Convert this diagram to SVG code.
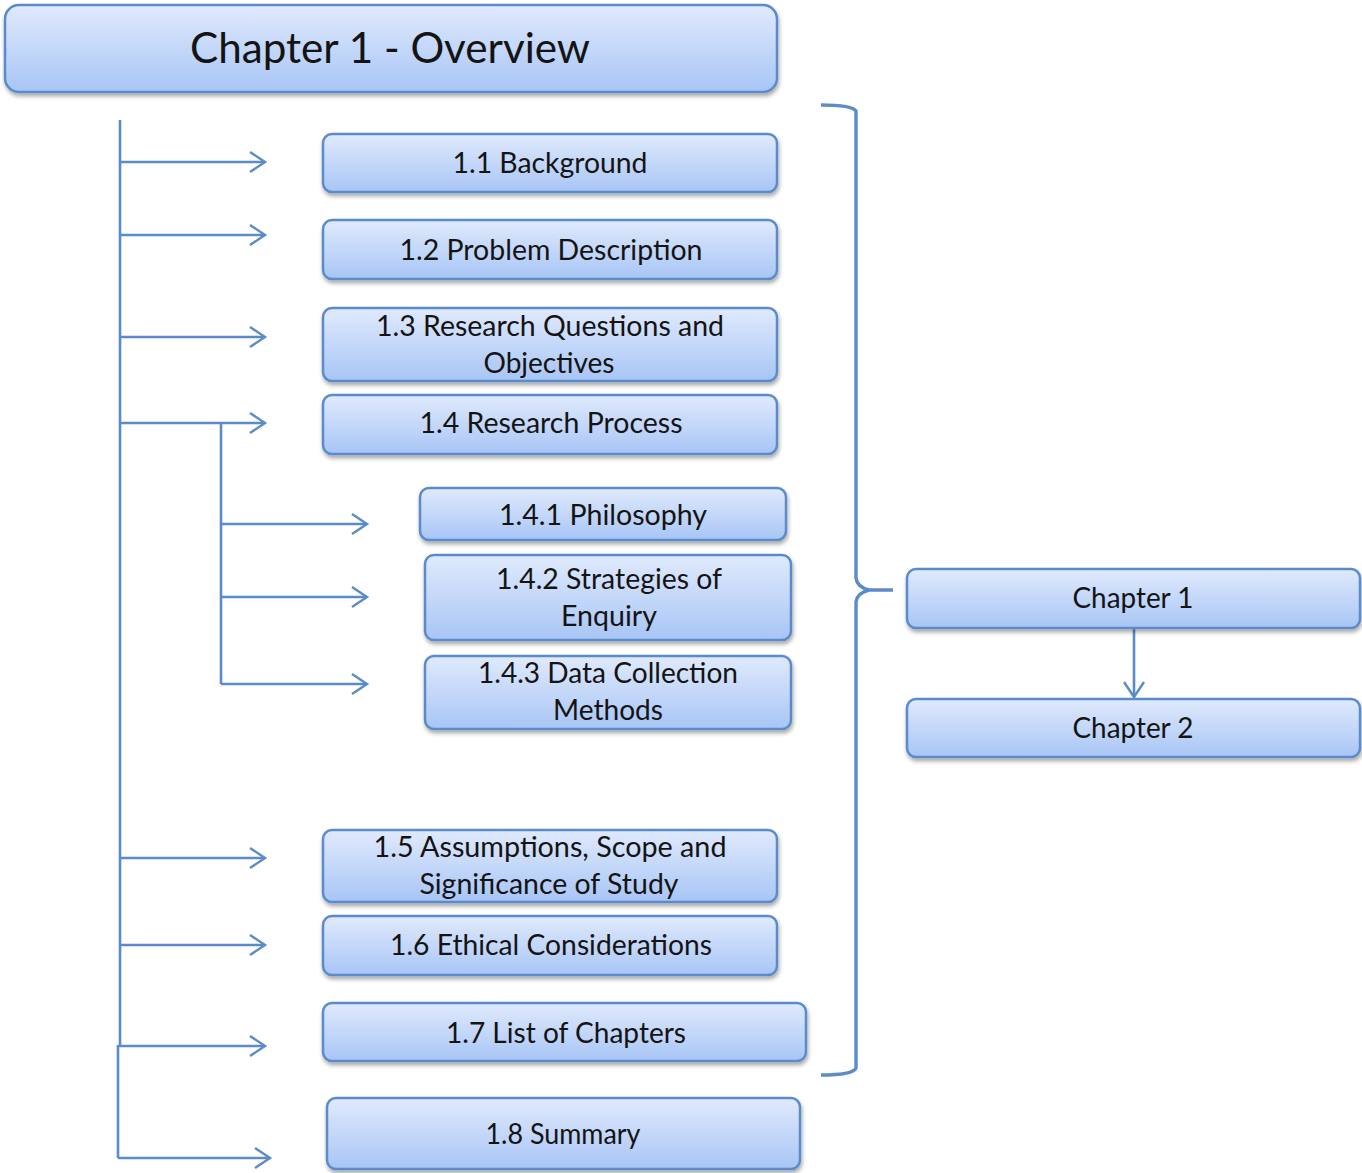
<svg xmlns="http://www.w3.org/2000/svg" width="1362" height="1173" viewBox="0 0 1362 1173">
  <defs>
    <linearGradient id="boxFill" x1="0" y1="0" x2="0" y2="1">
      <stop offset="0" stop-color="#e0eafc"/>
      <stop offset="1" stop-color="#a8c5f6"/>
    </linearGradient>
    <filter id="shadow" x="-5%" y="-20%" width="110%" height="150%">
      <feGaussianBlur in="SourceAlpha" stdDeviation="2"/>
      <feOffset dx="1" dy="3" result="b"/>
      <feComponentTransfer><feFuncA type="linear" slope="0.35"/></feComponentTransfer>
      <feMerge><feMergeNode/><feMergeNode in="SourceGraphic"/></feMerge>
    </filter>
    <marker id="arrow" markerWidth="20" markerHeight="24" refX="17" refY="12" orient="auto" markerUnits="userSpaceOnUse">
      <path d="M2,2 L17,12 L2,22" fill="none" stroke="#5b8bc9" stroke-width="2.4"/>
    </marker>
  </defs>
  <style>
    .box { fill: url(#boxFill); stroke: #5b8bc9; stroke-width: 2.5; filter: url(#shadow); }
    .lbl { font-family: Lato, "Open Sans", "Liberation Sans", sans-serif; font-size: 28px; fill: #141414; text-anchor: middle; }
    .title { font-size: 43px; }
    .conn { fill: none; stroke: #5b8bc9; stroke-width: 2.6; }
    .brace { fill: none; stroke: #5b8bc9; stroke-width: 3.4; stroke-linejoin: round; }
  </style>

  <g id="connectors">
    <!-- main spine -->
    <path class="conn" d="M120,120 V1045 M118,1045 V1158"/>
    <line class="conn" x1="120" y1="162" x2="265" y2="162" marker-end="url(#arrow)"/>
    <line class="conn" x1="120" y1="235" x2="265" y2="235" marker-end="url(#arrow)"/>
    <line class="conn" x1="120" y1="337" x2="265" y2="337" marker-end="url(#arrow)"/>
    <line class="conn" x1="120" y1="423" x2="265" y2="423" marker-end="url(#arrow)"/>
    <line class="conn" x1="120" y1="858" x2="265" y2="858" marker-end="url(#arrow)"/>
    <line class="conn" x1="120" y1="945" x2="265" y2="945" marker-end="url(#arrow)"/>
    <line class="conn" x1="118" y1="1046" x2="265" y2="1046" marker-end="url(#arrow)"/>
    <line class="conn" x1="118" y1="1158" x2="270" y2="1158" marker-end="url(#arrow)"/>
    <!-- research process sub-branch -->
    <path class="conn" d="M221,423 V684"/>
    <line class="conn" x1="221" y1="524" x2="367" y2="524" marker-end="url(#arrow)"/>
    <line class="conn" x1="221" y1="597" x2="367" y2="597" marker-end="url(#arrow)"/>
    <line class="conn" x1="221" y1="684" x2="367" y2="684" marker-end="url(#arrow)"/>
    <!-- chapter sequence -->
    <line class="conn" x1="1134" y1="628" x2="1134" y2="697" marker-end="url(#arrow)"/>
    <!-- grouping brace -->
    <path class="brace" d="M821,105 Q852,105 856,111 V578 Q857,587 869,590 L893,590 M869,590 Q857,593 856,602 V1068 Q853,1075 821,1075"/>
  </g>

  <g id="title">
    <rect class="box" x="5" y="5" width="772" height="87" rx="14"/>
    <text class="lbl title" x="390" y="63" textLength="400" lengthAdjust="spacingAndGlyphs">Chapter 1 - Overview</text>
  </g>
  <g id="n11">
    <rect class="box" x="323" y="134" width="454" height="58" rx="9"/>
    <text class="lbl" x="550" y="173" textLength="195" lengthAdjust="spacingAndGlyphs">1.1 Background</text>
  </g>
  <g id="n12">
    <rect class="box" x="323" y="220" width="454" height="59" rx="9"/>
    <text class="lbl" x="551" y="260" textLength="303" lengthAdjust="spacingAndGlyphs">1.2 Problem Description</text>
  </g>
  <g id="n13">
    <rect class="box" x="323" y="308" width="454" height="73" rx="9"/>
    <text class="lbl" x="550" y="336" textLength="348" lengthAdjust="spacingAndGlyphs">1.3 Research Questions and</text>
    <text class="lbl" x="549" y="373" textLength="131" lengthAdjust="spacingAndGlyphs">Objectives</text>
  </g>
  <g id="n14">
    <rect class="box" x="323" y="395" width="454" height="59" rx="9"/>
    <text class="lbl" x="551" y="433" textLength="263" lengthAdjust="spacingAndGlyphs">1.4 Research Process</text>
  </g>
  <g id="n141">
    <rect class="box" x="420" y="488" width="366" height="52" rx="9"/>
    <text class="lbl" x="603" y="525" textLength="208" lengthAdjust="spacingAndGlyphs">1.4.1 Philosophy</text>
  </g>
  <g id="n142">
    <rect class="box" x="425" y="555" width="366" height="85" rx="9"/>
    <text class="lbl" x="609" y="589" textLength="226" lengthAdjust="spacingAndGlyphs">1.4.2 Strategies of</text>
    <text class="lbl" x="609" y="626" textLength="96" lengthAdjust="spacingAndGlyphs">Enquiry</text>
  </g>
  <g id="n143">
    <rect class="box" x="425" y="656" width="366" height="73" rx="9"/>
    <text class="lbl" x="608" y="683" textLength="260" lengthAdjust="spacingAndGlyphs">1.4.3 Data Collection</text>
    <text class="lbl" x="608" y="720" textLength="110" lengthAdjust="spacingAndGlyphs">Methods</text>
  </g>
  <g id="n15">
    <rect class="box" x="323" y="830" width="454" height="72" rx="9"/>
    <text class="lbl" x="550" y="857" textLength="353" lengthAdjust="spacingAndGlyphs">1.5 Assumptions, Scope and</text>
    <text class="lbl" x="549" y="894" textLength="259" lengthAdjust="spacingAndGlyphs">Significance of Study</text>
  </g>
  <g id="n16">
    <rect class="box" x="323" y="916" width="454" height="59" rx="9"/>
    <text class="lbl" x="551" y="955" textLength="322" lengthAdjust="spacingAndGlyphs">1.6 Ethical Considerations</text>
  </g>
  <g id="n17">
    <rect class="box" x="323" y="1003" width="483" height="58" rx="9"/>
    <text class="lbl" x="566" y="1043" textLength="240" lengthAdjust="spacingAndGlyphs">1.7 List of Chapters</text>
  </g>
  <g id="n18">
    <rect class="box" x="327" y="1098" width="473" height="71" rx="9"/>
    <text class="lbl" x="563" y="1144" textLength="155" lengthAdjust="spacingAndGlyphs">1.8 Summary</text>
  </g>
  <g id="ch1">
    <rect class="box" x="907" y="569" width="453" height="59" rx="9"/>
    <text class="lbl" x="1133" y="608" textLength="121" lengthAdjust="spacingAndGlyphs">Chapter 1</text>
  </g>
  <g id="ch2">
    <rect class="box" x="907" y="699" width="453" height="58" rx="9"/>
    <text class="lbl" x="1133" y="738" textLength="121" lengthAdjust="spacingAndGlyphs">Chapter 2</text>
  </g>
</svg>
